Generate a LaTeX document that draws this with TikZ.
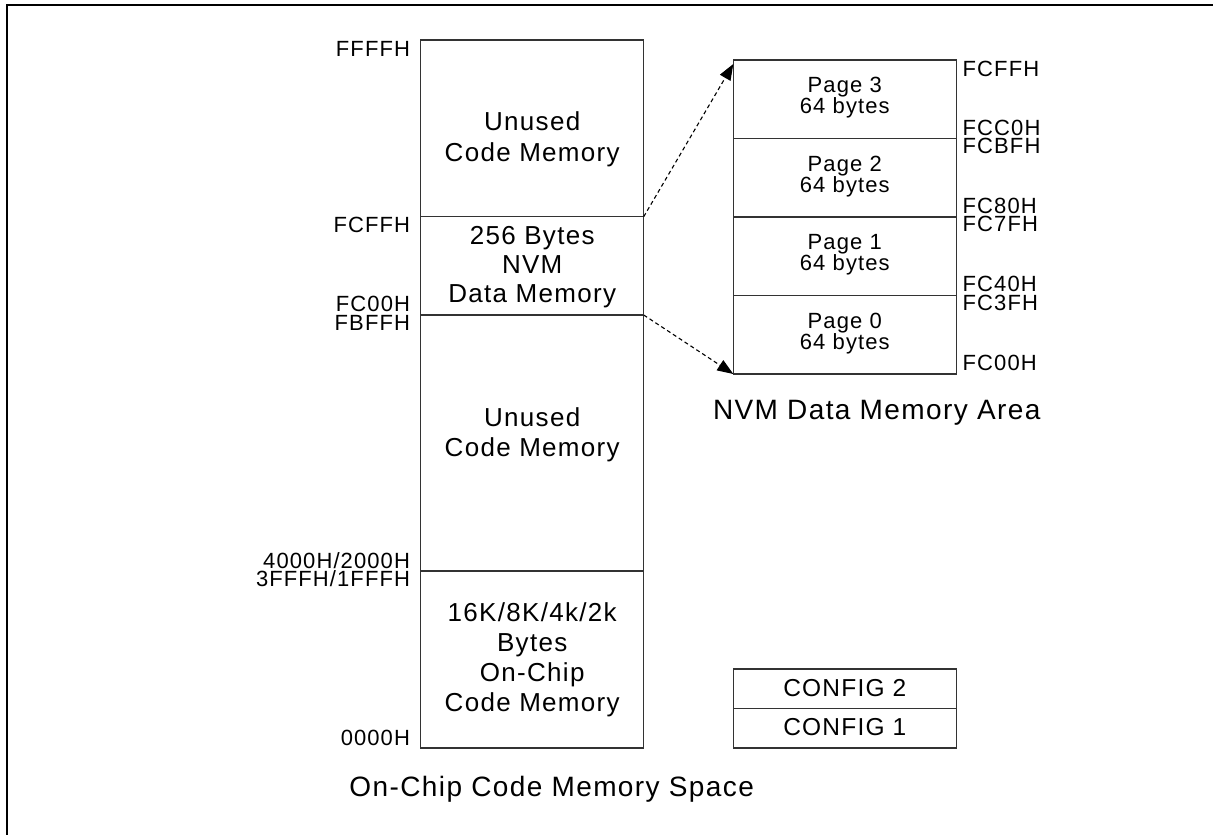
\documentclass[tikz,border=0pt]{standalone}
\usepackage{fontspec}
\setmainfont{Liberation Sans}
\newfontfamily\lsA{Liberation Sans}[LetterSpace=5]
\usetikzlibrary{arrows.meta}
\tikzset{
  blk/.style={draw=black!80, line width=1.1pt, inner sep=0pt, outer sep=0pt, fill=none},
  txt/.style={inner sep=0pt, outer sep=0pt, anchor=base, font=\lsA\fontsize{26}{30}\selectfont},
  pgtxt/.style={txt, font=\lsA\fontsize{22}{25}\selectfont},
  cfgtxt/.style={txt, font=\lsA\fontsize{24.5}{28}\selectfont},
  addrR/.style={inner sep=0pt, outer sep=0pt, anchor=base east, font=\lsA\fontsize{22}{25}\selectfont},
  addrL/.style={inner sep=0pt, outer sep=0pt, anchor=base west, font=\lsA\fontsize{22}{25}\selectfont},
  captxt/.style={txt, font=\lsA\fontsize{28}{32}\selectfont},
  link/.style={line width=1.1pt, dash pattern=on 4pt off 3pt, -{Triangle[length=16pt,width=12pt]}},
}
\begin{document}
\begin{tikzpicture}[x=1pt,y=-1pt]
\useasboundingbox (0,0) rectangle (1213,835);
\clip (0,0) rectangle (1213,835);
\fill[white] (0,0) rectangle (1213,835);
% outer frame (only left and top edges visible)
\draw[line width=2.2pt] (7,5) rectangle (1260,900);

% main memory column
\node[blk, anchor=north west, minimum width=223pt, minimum height=176.7pt] (u1) at (420.7,40) {};
\node[blk, anchor=north west, minimum width=223pt, minimum height=98.3pt] (nvm) at (420.7,216.7) {};
\node[blk, anchor=north west, minimum width=223pt, minimum height=256pt] (u2) at (420.7,315) {};
\node[blk, anchor=north west, minimum width=223pt, minimum height=177pt] (code) at (420.7,571) {};

\node[txt] (u1a) at (532.2,130.7) {Unused};
\node[txt] (u1b) at (532.2,161.7) {Code Memory};
\node[txt] (nvma) at (532.2,244.5) {256 Bytes};
\node[txt] (nvmb) at (532.2,273.5) {NVM};
\node[txt] (nvmc) at (532.2,302.7) {Data Memory};
\node[txt] (u2a) at (532.2,426.5) {Unused};
\node[txt] (u2b) at (532.2,456.5) {Code Memory};
\node[txt] (codea) at (532.2,621.7) {16K/8K/4k/2k};
\node[txt] (codeb) at (532.2,651.7) {Bytes};
\node[txt] (codec) at (532.2,681.7) {On-Chip};
\node[txt] (coded) at (532.2,711.7) {Code Memory};

% left addresses
\node[addrR] (aFFFF) at (410,56.7) {FFFFH};
\node[addrR] (aFCFF) at (410,232.7) {FCFFH};
\node[addrR] (aFC00) at (410,311.7) {FC00H};
\node[addrR] (aFBFF) at (410,330.7) {FBFFH};
\node[addrR] (a4000) at (410,568.3) {4000H/2000H};
\node[addrR] (a3FFF) at (410,586.7) {3FFFH/1FFFH};
\node[addrR] (a0000) at (410,745) {0000H};

% NVM pages
\node[blk, anchor=north west, minimum width=223pt, minimum height=78.5pt] (p3) at (733.3,60) {};
\node[blk, anchor=north west, minimum width=223pt, minimum height=78.5pt] (p2) at (733.3,138.5) {};
\node[blk, anchor=north west, minimum width=223pt, minimum height=78.5pt] (p1) at (733.3,217) {};
\node[blk, anchor=north west, minimum width=223pt, minimum height=78.5pt] (p0) at (733.3,295.5) {};

\node[pgtxt] (p3a) at (844.8,92.5) {Page 3};
\node[pgtxt] (p3b) at (844.8,113.5) {64 bytes};
\node[pgtxt] (p2a) at (844.8,171) {Page 2};
\node[pgtxt] (p2b) at (844.8,192) {64 bytes};
\node[pgtxt] (p1a) at (844.8,249.5) {Page 1};
\node[pgtxt] (p1b) at (844.8,270.5) {64 bytes};
\node[pgtxt] (p0a) at (844.8,328) {Page 0};
\node[pgtxt] (p0b) at (844.8,349) {64 bytes};

% right addresses
\node[addrL] (bFCFF) at (962.7,76) {FCFFH};
\node[addrL] (bFCC0) at (962.7,135) {FCC0H};
\node[addrL] (bFCBF) at (962.7,153) {FCBFH};
\node[addrL] (bFC80) at (962.7,213.3) {FC80H};
\node[addrL] (bFC7F) at (962.7,231.7) {FC7FH};
\node[addrL] (bFC40) at (962.7,291.7) {FC40H};
\node[addrL] (bFC3F) at (962.7,310) {FC3FH};
\node[addrL] (bFC00) at (962.7,370) {FC00H};

\node[captxt] (nvmcap) at (876.7,419.5) {NVM Data Memory Area};

% config
\node[blk, anchor=north west, minimum width=223pt, minimum height=39.7pt] (cfg2) at (733.3,669) {};
\node[blk, anchor=north west, minimum width=223pt, minimum height=39.3pt] (cfg1) at (733.3,708.7) {};
\node[cfgtxt] (cfg2t) at (844.8,696) {CONFIG 2};
\node[cfgtxt] (cfg1t) at (844.8,735.5) {CONFIG 1};

\node[captxt] (maincap) at (551.7,796.5) {On-Chip Code Memory Space};

% expansion arrows
\coordinate (tipTop) at (733.3,64);
\draw[link] (u1.south east) -- (tipTop);
\draw[link] (u2.north east) -- (p0.south west);
\end{tikzpicture}
\end{document}
